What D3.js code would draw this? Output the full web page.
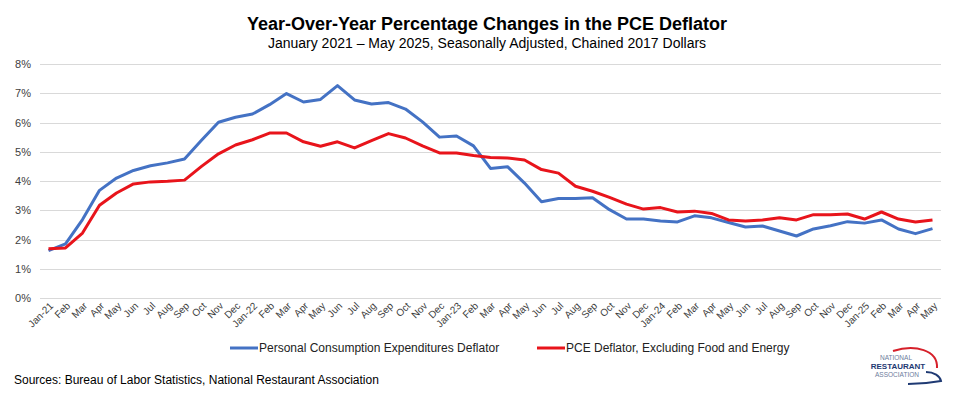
<!DOCTYPE html>
<html>
<head>
<meta charset="utf-8">
<script src="https://cdn.jsdelivr.net/npm/d3@7"></script>
<style>
  body { margin: 0; background: #fff; }
  svg { display: block; font-family: "Liberation Sans", Arial, sans-serif; }
</style>
</head>
<body>
<svg id="chart" width="955" height="394"></svg>
<script>
// Month labels, Jan 2021 - May 2025
const months = [
  "Jan-21","Feb","Mar","Apr","May","Jun","Jul","Aug","Sep","Oct","Nov","Dec",
  "Jan-22","Feb","Mar","Apr","May","Jun","Jul","Aug","Sep","Oct","Nov","Dec",
  "Jan-23","Feb","Mar","Apr","May","Jun","Jul","Aug","Sep","Oct","Nov","Dec",
  "Jan-24","Feb","Mar","Apr","May","Jun","Jul","Aug","Sep","Oct","Nov","Dec",
  "Jan-25","Feb","Mar","Apr","May"
];

// Personal Consumption Expenditures Deflator, YoY %
const pce = [
  1.62, 1.85, 2.68, 3.68, 4.10, 4.36, 4.52, 4.62, 4.75, 5.39, 6.01, 6.18,
  6.29, 6.61, 6.99, 6.70, 6.79, 7.26, 6.77, 6.63, 6.68, 6.46, 6.02, 5.50,
  5.54, 5.20, 4.43, 4.49, 3.93, 3.29, 3.40, 3.40, 3.43, 3.02, 2.70, 2.70,
  2.63, 2.60, 2.81, 2.74, 2.58, 2.43, 2.46, 2.29, 2.12, 2.36, 2.47, 2.61,
  2.56, 2.67, 2.36, 2.20, 2.37
];

// PCE Deflator excluding food and energy, YoY %
const core = [
  1.68, 1.71, 2.22, 3.17, 3.59, 3.90, 3.97, 3.99, 4.03, 4.50, 4.93, 5.23,
  5.41, 5.64, 5.64, 5.34, 5.19, 5.34, 5.13, 5.38, 5.62, 5.47, 5.20, 4.96,
  4.96, 4.87, 4.80, 4.79, 4.72, 4.39, 4.27, 3.82, 3.65, 3.44, 3.21, 3.04,
  3.09, 2.94, 2.97, 2.89, 2.67, 2.63, 2.67, 2.74, 2.67, 2.85, 2.85, 2.87,
  2.70, 2.94, 2.70, 2.60, 2.67
];

const yTicks = [0, 1, 2, 3, 4, 5, 6, 7, 8];

const seriesNames = [
  "Personal Consumption Expenditures Deflator",
  "PCE Deflator, Excluding Food and Energy"
];
const seriesColors = ["#4472c4", "#e8141b"];

const svg = d3.select("#chart");
const plot = {left: 40, right: 941, top: 64, bottom: 298};

// Titles
svg.append("text")
  .attr("x", 487).attr("y", 30)
  .attr("text-anchor", "middle")
  .attr("font-size", 18).attr("font-weight", "bold")
  .attr("fill", "#000")
  .text("Year-Over-Year Percentage Changes in the PCE Deflator");

svg.append("text")
  .attr("x", 487).attr("y", 48)
  .attr("text-anchor", "middle")
  .attr("font-size", 14)
  .attr("fill", "#000")
  .text("January 2021 \u2013 May 2025, Seasonally Adjusted, Chained 2017 Dollars");

// Scales
const x = d3.scaleBand()
  .domain(d3.range(months.length))
  .range([plot.left, plot.right]);
const xc = i => x(i) + x.bandwidth() / 2;

const y = d3.scaleLinear()
  .domain([0, 8])
  .range([plot.bottom, plot.top]);

// Gridlines
svg.append("g")
  .selectAll("line")
  .data(yTicks)
  .join("line")
  .attr("x1", plot.left).attr("x2", plot.right)
  .attr("y1", d => Math.round(y(d)) + 0.5)
  .attr("y2", d => Math.round(y(d)) + 0.5)
  .attr("stroke", "#d9d9d9")
  .attr("stroke-width", 1);

// Y axis labels
const yAxis = d3.axisLeft(y)
  .tickValues(yTicks)
  .tickFormat(d => d + "%")
  .tickSize(0)
  .tickPadding(9);
svg.append("g")
  .attr("transform", `translate(${plot.left},0)`)
  .call(yAxis)
  .call(g => g.select(".domain").remove())
  .call(g => g.selectAll("text")
    .attr("font-size", 11)
    .attr("font-family", "Liberation Sans, Arial, sans-serif")
    .attr("fill", "#404040"));

// X axis labels, rotated
svg.append("g")
  .selectAll("text")
  .data(months)
  .join("text")
  .attr("transform", (d, i) => `translate(${xc(i) + 3},${plot.bottom + 6}) rotate(-45)`)
  .attr("text-anchor", "end")
  .attr("dy", "0.35em")
  .attr("font-size", 10)
  .attr("fill", "#404040")
  .text(d => d);

// Lines
const line = d3.line()
  .x((d, i) => xc(i))
  .y(d => y(d));

[pce, core].forEach((s, k) => {
  svg.append("path")
    .datum(s)
    .attr("d", line)
    .attr("fill", "none")
    .attr("stroke", seriesColors[k])
    .attr("stroke-width", 3)
    .attr("stroke-linejoin", "round");
});

// Legend
const legendX = [230, 537];
seriesNames.forEach((name, k) => {
  const g = svg.append("g").attr("transform", `translate(${legendX[k]},348)`);
  g.append("line")
    .attr("x1", 0).attr("x2", 28)
    .attr("stroke", seriesColors[k])
    .attr("stroke-width", 3);
  g.append("text")
    .attr("x", 29).attr("y", 0)
    .attr("dy", "0.35em")
    .attr("font-size", 12)
    .attr("fill", "#222")
    .text(name);
});

// Sources
svg.append("text")
  .attr("x", 14).attr("y", 384)
  .attr("font-size", 12)
  .attr("fill", "#000")
  .text("Sources: Bureau of Labor Statistics, National Restaurant Association");

// Logo
const logo = svg.append("g");
logo.append("path")
  .attr("d", "M893,351 C915,344 938,350 937,368")
  .attr("fill", "none").attr("stroke", "#d6202a").attr("stroke-width", 2);
logo.append("path")
  .attr("d", "M926,372 C934,372 940,376 941,381 C930,383 918,384 908,384")
  .attr("fill", "none").attr("stroke", "#1f3a73").attr("stroke-width", 2);
logo.append("text")
  .attr("x", 896).attr("y", 360).attr("text-anchor", "middle")
  .attr("font-size", 6.5).attr("fill", "#6d7c9c")
  .text("NATIONAL");
logo.append("text")
  .attr("x", 898).attr("y", 368.5).attr("text-anchor", "middle")
  .attr("font-size", 8).attr("font-weight", "bold").attr("fill", "#1f3a73")
  .text("RESTAURANT");
logo.append("text")
  .attr("x", 897).attr("y", 376.5).attr("text-anchor", "middle")
  .attr("font-size", 6.5).attr("fill", "#6d7c9c")
  .text("ASSOCIATION");
</script>
</body>
</html>
